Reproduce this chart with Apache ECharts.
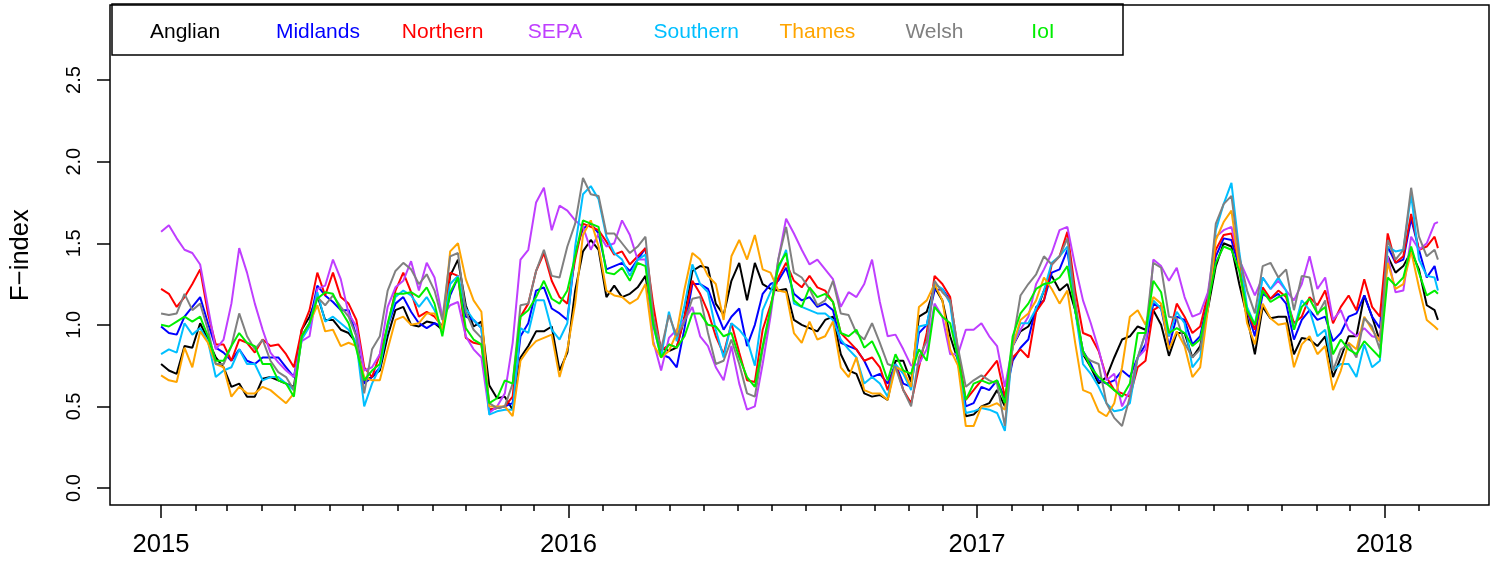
<!DOCTYPE html>
<html>
<head>
<meta charset="utf-8">
<script src="https://cdn.jsdelivr.net/npm/echarts@6/dist/echarts.min.js"></script>
<style>
  html, body { margin: 0; padding: 0; background: #ffffff; }
  #chart { width: 1498px; height: 561px; }
</style>
</head>
<body>
<div id="chart"></div>
<script>
// Weekly sampling dates for the regional F-index series
const dates = [
  '2015-01-01','2015-01-08','2015-01-15','2015-01-22','2015-01-29','2015-02-05','2015-02-12','2015-02-19','2015-02-26','2015-03-05',
  '2015-03-12','2015-03-19','2015-03-26','2015-04-02','2015-04-09','2015-04-16','2015-04-23','2015-04-30','2015-05-07','2015-05-14',
  '2015-05-21','2015-05-28','2015-06-04','2015-06-11','2015-06-18','2015-06-25','2015-07-02','2015-07-09','2015-07-16','2015-07-23',
  '2015-07-30','2015-08-06','2015-08-13','2015-08-20','2015-08-27','2015-09-03','2015-09-10','2015-09-17','2015-09-24','2015-10-01',
  '2015-10-08','2015-10-15','2015-10-22','2015-10-29','2015-11-05','2015-11-12','2015-11-19','2015-11-26','2015-12-03','2015-12-10',
  '2015-12-17','2015-12-24','2015-12-31','2016-01-07','2016-01-14','2016-01-21','2016-01-28','2016-02-04','2016-02-11','2016-02-18',
  '2016-02-25','2016-03-03','2016-03-10','2016-03-17','2016-03-24','2016-03-31','2016-04-07','2016-04-14','2016-04-21','2016-04-28',
  '2016-05-05','2016-05-12','2016-05-19','2016-05-26','2016-06-02','2016-06-09','2016-06-16','2016-06-23','2016-06-30','2016-07-07',
  '2016-07-14','2016-07-21','2016-07-28','2016-08-04','2016-08-11','2016-08-18','2016-08-25','2016-09-01','2016-09-08','2016-09-15',
  '2016-09-22','2016-09-29','2016-10-06','2016-10-13','2016-10-20','2016-10-27','2016-11-03','2016-11-10','2016-11-17','2016-11-24',
  '2016-12-01','2016-12-08','2016-12-15','2016-12-22','2016-12-29','2017-01-05','2017-01-12','2017-01-19','2017-01-26','2017-02-02',
  '2017-02-09','2017-02-16','2017-02-23','2017-03-02','2017-03-09','2017-03-16','2017-03-23','2017-03-30','2017-04-06','2017-04-13',
  '2017-04-20','2017-04-27','2017-05-04','2017-05-11','2017-05-18','2017-05-25','2017-06-01','2017-06-08','2017-06-15','2017-06-22',
  '2017-06-29','2017-07-06','2017-07-13','2017-07-20','2017-07-27','2017-08-03','2017-08-10','2017-08-17','2017-08-24','2017-08-31',
  '2017-09-07','2017-09-14','2017-09-21','2017-09-28','2017-10-05','2017-10-12','2017-10-19','2017-10-26','2017-11-02','2017-11-09',
  '2017-11-16','2017-11-23','2017-11-30','2017-12-07','2017-12-14','2017-12-21','2017-12-28','2018-01-04','2018-01-11','2018-01-18',
  '2018-01-25','2018-02-01','2018-02-08','2018-02-15','2018-02-18'
];

const anglian = [
  0.76,0.72,0.70,0.87,0.86,1.01,0.91,0.80,0.74,0.62, 0.64,0.56,0.56,0.67,0.68,0.66,0.64,0.62,0.97,1.05,
  1.18,1.03,1.03,0.97,0.95,0.89,0.66,0.68,0.72,0.93, 1.09,1.11,1.00,0.99,1.02,1.01,0.97,1.30,1.40,1.12,
  0.99,1.02,0.63,0.55,0.56,0.48,0.80,0.87,0.96,0.96, 0.99,0.72,0.83,1.21,1.45,1.52,1.46,1.17,1.24,1.17,
  1.19,1.23,1.30,1.00,0.86,0.84,0.86,1.05,1.33,1.36, 1.35,1.13,1.06,1.27,1.38,1.15,1.38,1.25,1.22,1.21,
  1.22,1.03,1.00,0.98,0.96,1.03,1.05,0.82,0.72,0.70, 0.58,0.56,0.57,0.54,0.78,0.78,0.65,1.05,1.08,1.23,
  1.15,0.93,0.78,0.44,0.45,0.50,0.52,0.60,0.50,0.87, 0.96,0.99,1.08,1.21,1.30,1.21,1.25,1.09,0.82,0.74,
  0.64,0.68,0.80,0.91,0.93,0.99,0.97,1.09,1.00,0.81, 0.95,0.95,0.80,0.87,1.10,1.36,1.50,1.48,1.25,1.05,
  0.82,1.11,1.04,1.05,1.05,0.82,0.92,0.91,0.87,0.93, 0.68,0.80,0.93,0.93,1.18,1.05,0.90,1.42,1.32,1.36,
  1.45,1.34,1.12,1.09,1.03
];
const midlands = [
  0.99,0.95,0.94,1.05,1.11,1.17,1.01,0.86,0.83,0.78, 0.85,0.78,0.76,0.80,0.80,0.80,0.74,0.68,0.93,1.01,
  1.24,1.18,1.14,1.09,1.09,0.93,0.64,0.68,0.74,0.99, 1.13,1.17,1.08,1.01,0.98,1.01,0.99,1.18,1.29,1.05,
  1.03,0.98,0.48,0.49,0.50,0.52,0.93,1.01,1.21,1.23, 1.10,1.07,1.03,1.44,1.59,1.62,1.56,1.34,1.36,1.38,
  1.33,1.40,1.47,1.02,0.82,0.80,0.74,0.98,1.25,1.25, 1.22,1.09,0.97,1.05,1.10,0.87,1.00,1.19,1.25,1.27,
  1.35,1.19,1.15,1.17,1.11,1.13,1.09,0.89,0.87,0.85, 0.78,0.68,0.70,0.64,0.76,0.64,0.62,0.95,1.00,1.21,
  1.22,1.15,0.80,0.50,0.52,0.62,0.60,0.66,0.55,0.78, 0.86,0.91,1.11,1.15,1.32,1.34,1.46,1.09,0.84,0.76,
  0.66,0.64,0.66,0.72,0.68,0.80,0.88,1.13,1.10,0.87, 1.05,1.03,0.88,0.93,1.16,1.42,1.53,1.52,1.35,1.09,
  0.93,1.19,1.16,1.19,1.13,0.91,1.03,1.09,1.03,1.05, 0.90,0.95,1.05,1.07,1.18,1.05,0.98,1.48,1.38,1.40,
  1.65,1.46,1.29,1.36,1.27
];
const northern = [
  1.22,1.19,1.11,1.17,1.25,1.34,1.07,0.88,0.88,0.78, 0.91,0.89,0.83,0.91,0.87,0.88,0.82,0.74,0.97,1.09,
  1.32,1.18,1.32,1.17,1.13,1.03,0.74,0.68,0.82,0.99, 1.21,1.32,1.20,1.05,1.08,1.05,0.99,1.32,1.30,0.92,
  0.89,0.88,0.48,0.49,0.50,0.56,1.05,1.13,1.33,1.44, 1.27,1.17,1.13,1.40,1.62,1.60,1.58,1.51,1.43,1.45,
  1.37,1.42,1.47,1.12,0.84,0.88,0.86,1.05,1.27,1.19, 1.08,0.93,0.82,1.01,0.83,0.66,0.65,0.97,1.12,1.29,
  1.38,1.27,1.23,1.30,1.23,1.21,1.14,0.95,0.90,0.85, 0.78,0.80,0.74,0.60,0.76,0.60,0.52,0.74,0.95,1.30,
  1.25,1.17,0.84,0.54,0.60,0.66,0.72,0.78,0.56,0.80, 0.85,0.80,1.08,1.15,1.37,1.42,1.57,1.21,0.95,0.93,
  0.84,0.68,0.60,0.58,0.56,0.74,0.78,1.09,1.12,0.93, 1.13,1.05,0.95,0.99,1.19,1.46,1.55,1.56,1.38,1.09,
  0.97,1.23,1.16,1.21,1.17,1.01,1.05,1.17,1.12,1.21, 1.01,1.11,1.18,1.09,1.28,1.11,1.05,1.56,1.38,1.42,
  1.68,1.46,1.48,1.54,1.47
];
const sepa = [
  1.57,1.61,1.53,1.46,1.44,1.37,1.11,0.85,0.91,1.13, 1.47,1.32,1.13,0.97,0.83,0.77,0.72,0.68,0.90,0.93,
  1.22,1.24,1.40,1.28,1.07,0.99,0.72,0.74,0.82,1.11, 1.23,1.27,1.39,1.21,1.38,1.29,1.05,1.12,1.14,0.93,
  0.85,0.80,0.46,0.50,0.58,0.89,1.40,1.46,1.75,1.84, 1.58,1.73,1.70,1.64,1.60,1.46,1.56,1.48,1.50,1.64,
  1.55,1.40,1.40,0.90,0.72,0.92,0.97,1.03,1.11,0.93, 0.87,0.74,0.66,0.87,0.64,0.48,0.50,0.76,1.05,1.40,
  1.65,1.56,1.46,1.37,1.40,1.34,1.28,1.11,1.20,1.17, 1.25,1.40,1.14,0.93,0.94,0.85,0.75,0.76,0.85,1.13,
  1.05,0.82,0.82,0.97,0.97,1.01,0.93,0.87,0.62,0.87, 0.97,1.05,1.25,1.34,1.44,1.58,1.60,1.36,1.15,1.01,
  0.85,0.66,0.70,0.50,0.60,0.80,0.85,1.40,1.36,1.27, 1.35,1.17,1.05,1.07,1.20,1.54,1.58,1.60,1.40,1.29,
  1.18,1.29,1.22,1.27,1.21,1.15,1.25,1.42,1.22,1.29, 1.03,1.09,0.97,0.93,0.98,0.93,0.92,1.42,1.20,1.21,
  1.54,1.46,1.50,1.62,1.63
];
const southern = [
  0.82,0.85,0.83,1.01,0.94,0.98,0.90,0.68,0.72,0.74, 0.85,0.76,0.76,0.66,0.68,0.68,0.64,0.60,0.91,0.99,
  1.20,1.02,1.05,1.01,0.97,0.89,0.50,0.64,0.74,0.99, 1.17,1.21,1.18,1.11,1.17,1.09,0.97,1.25,1.30,1.10,
  1.03,0.98,0.45,0.47,0.48,0.48,0.98,0.95,1.15,1.15, 0.97,0.91,1.01,1.48,1.80,1.85,1.77,1.54,1.44,1.40,
  1.30,1.40,1.43,1.00,0.80,1.08,0.90,1.12,1.37,1.25, 1.20,0.97,0.80,1.01,0.97,0.91,0.75,1.09,1.20,1.34,
  1.46,1.13,1.11,1.09,1.07,1.07,1.03,0.91,0.85,0.80, 0.64,0.68,0.64,0.56,0.76,0.70,0.60,0.99,1.00,1.25,
  1.22,1.13,0.77,0.46,0.47,0.49,0.48,0.46,0.35,0.87, 1.01,1.01,1.10,1.21,1.38,1.42,1.48,1.09,0.76,0.70,
  0.62,0.52,0.47,0.48,0.52,0.80,0.95,1.15,1.10,0.93, 1.08,1.01,0.74,0.80,1.12,1.58,1.74,1.87,1.45,1.11,
  1.00,1.29,1.22,1.29,1.21,0.97,1.15,1.09,0.93,0.97, 0.72,0.76,0.76,0.68,0.88,0.74,0.78,1.48,1.45,1.46,
  1.80,1.40,1.30,1.29,1.21
];
const thames = [
  0.69,0.66,0.65,0.86,0.74,0.96,0.89,0.76,0.74,0.56, 0.62,0.58,0.58,0.62,0.60,0.56,0.52,0.58,0.93,1.01,
  1.12,0.96,0.97,0.87,0.89,0.87,0.68,0.66,0.66,0.85, 1.03,1.05,1.00,1.01,1.07,1.07,0.97,1.45,1.50,1.28,
  1.15,1.08,0.50,0.50,0.50,0.44,0.78,0.85,0.90,0.92, 0.94,0.68,0.85,1.13,1.55,1.64,1.48,1.21,1.18,1.17,
  1.13,1.16,1.25,0.88,0.80,0.84,0.95,1.22,1.44,1.40, 1.30,1.25,1.03,1.42,1.52,1.40,1.55,1.34,1.32,1.21,
  1.20,0.95,0.89,1.02,0.91,0.93,1.02,0.74,0.68,0.80, 0.60,0.58,0.58,0.54,0.74,0.72,0.62,1.11,1.15,1.25,
  1.15,0.85,0.75,0.38,0.38,0.50,0.50,0.52,0.48,0.87, 1.03,1.07,1.15,1.29,1.22,1.13,1.21,0.89,0.60,0.58,
  0.47,0.44,0.52,0.74,1.05,1.09,1.00,1.17,1.13,0.85, 0.96,0.87,0.68,0.74,1.10,1.52,1.63,1.70,1.35,1.01,
  0.88,1.13,1.04,1.00,1.01,0.74,0.88,0.93,0.82,0.87, 0.60,0.72,0.89,0.85,1.05,0.97,0.90,1.38,1.22,1.25,
  1.45,1.23,1.03,0.99,0.97
];
const welsh = [
  1.07,1.06,1.07,1.19,1.09,1.13,0.97,0.76,0.76,0.87, 1.07,0.93,0.85,0.91,0.78,0.71,0.68,0.60,0.93,1.01,
  1.17,1.12,1.18,1.11,1.05,0.93,0.58,0.85,0.93,1.21, 1.33,1.38,1.34,1.25,1.31,1.21,1.03,1.42,1.44,1.08,
  0.97,0.92,0.52,0.49,0.50,0.64,1.12,1.13,1.33,1.46, 1.30,1.29,1.48,1.62,1.90,1.80,1.79,1.56,1.56,1.50,
  1.44,1.48,1.54,1.05,0.85,1.06,0.93,1.02,1.16,1.17, 0.95,0.76,0.78,0.91,0.76,0.58,0.56,0.85,1.08,1.40,
  1.60,1.32,1.29,1.22,1.12,1.15,1.27,1.07,1.06,0.95, 0.91,1.01,0.89,0.76,0.74,0.60,0.50,0.80,0.90,1.27,
  1.20,1.15,0.86,0.62,0.66,0.69,0.66,0.64,0.38,0.89, 1.18,1.25,1.31,1.42,1.37,1.42,1.53,1.15,0.82,0.78,
  0.76,0.52,0.43,0.38,0.56,0.80,0.95,1.38,1.35,1.05, 1.04,0.89,0.80,0.85,1.15,1.62,1.74,1.79,1.42,1.21,
  1.07,1.36,1.38,1.29,1.34,1.09,1.30,1.29,1.06,1.15, 0.72,0.85,0.88,0.80,1.04,0.99,0.85,1.52,1.40,1.46,
  1.84,1.54,1.42,1.46,1.40
];
const ioi = [
  1.00,0.99,1.02,1.05,1.02,1.05,0.93,0.78,0.78,0.87, 0.95,0.89,0.87,0.76,0.76,0.66,0.64,0.56,0.93,1.01,
  1.16,1.20,1.19,1.09,1.01,0.85,0.66,0.72,0.76,1.01, 1.19,1.19,1.20,1.17,1.23,1.13,0.93,1.20,1.29,0.98,
  0.91,0.88,0.52,0.55,0.66,0.64,1.05,1.09,1.17,1.27, 1.16,1.13,1.21,1.42,1.64,1.62,1.60,1.32,1.31,1.35,
  1.27,1.38,1.36,1.00,0.80,0.88,0.86,0.93,1.07,1.07, 1.00,0.99,0.93,0.95,0.80,0.68,0.62,0.87,1.10,1.36,
  1.44,1.15,1.11,1.23,1.17,1.19,1.14,0.95,0.93,0.97, 0.86,0.90,0.80,0.66,0.82,0.72,0.70,0.85,0.78,1.11,
  1.05,1.01,0.80,0.54,0.64,0.66,0.64,0.66,0.52,0.93, 1.07,1.13,1.22,1.25,1.26,1.29,1.36,1.09,0.84,0.74,
  0.68,0.64,0.60,0.56,0.64,0.95,0.95,1.27,1.20,0.95, 0.98,0.95,0.87,0.91,1.13,1.38,1.48,1.46,1.33,1.09,
  1.00,1.21,1.14,1.17,1.19,0.97,1.11,1.16,1.07,1.11, 0.82,0.91,0.85,0.82,0.90,0.85,0.80,1.29,1.24,1.29,
  1.48,1.32,1.18,1.21,1.19
];

const seriesNames = ['Anglian','Midlands','Northern','SEPA','Southern','Thames','Welsh','IoI'];
const seriesValues = [anglian, midlands, northern, sepa, southern, thames, welsh, ioi];
const seriesColors = ['#000000','#0000FF','#FF0000','#BF3EFF','#00BFFF','#FFA500','#808080','#00EE00'];

const yTickValues = [0, 0.5, 1.0, 1.5, 2.0, 2.5];
const yearLabels = [2015, 2016, 2017, 2018];

const FONT = '"Liberation Sans", Arial, Helvetica, sans-serif';
const toTime = d => Date.parse(d + 'T00:00:00Z');

// Axis range padded by 4% either side, like a base-graphics plot
const tFirst = toTime(dates[0]);
const tLast = toTime(dates[dates.length - 1]);
const tPad = 0.04 * (tLast - tFirst);

const yearTicks = yearLabels.map(y => Date.UTC(y, 0, 1));
const monthTicks = [];
for (let y = 2015; y <= 2018; y++) {
  for (let m = 0; m < 12; m++) {
    const t = Date.UTC(y, m, 1);
    if (t >= tFirst && t <= tLast) monthTicks.push(t);
  }
}

const chart = echarts.init(document.getElementById('chart'), null, { renderer: 'canvas' });

const legends = seriesNames.map((name, i) => ({
  show: true,
  data: [name],
  left: 145 + i * 125.9,
  top: 22,
  icon: 'none',
  itemWidth: 0,
  itemHeight: 0,
  itemGap: 0,
  padding: 0,
  selectedMode: false,
  textStyle: { color: seriesColors[i], fontSize: 21, fontFamily: FONT }
}));

const baseX = {
  type: 'value',
  min: tFirst - tPad,
  max: tLast + tPad,
  position: 'bottom',
  axisLine: { show: false, onZero: false },
  splitLine: { show: false }
};

chart.setOption({
  animation: false,
  backgroundColor: '#ffffff',
  textStyle: { fontFamily: FONT },
  grid: {
    left: 110, top: 5, width: 1379, height: 500,
    show: true, borderColor: '#000000', borderWidth: 1.5,
    backgroundColor: 'transparent'
  },
  legend: legends,
  graphic: [{
    type: 'rect',
    shape: { x: 112, y: 4, width: 1011, height: 51 },
    style: { fill: null, stroke: '#000000', lineWidth: 1.5 },
    z: 100
  }],
  xAxis: [
    Object.assign({}, baseX, {
      axisTick: { show: true, inside: false, customValues: monthTicks, length: 6, lineStyle: { color: '#000', width: 1.5 } },
      axisLabel: { show: false }
    }),
    Object.assign({}, baseX, {
      axisTick: { show: true, inside: false, customValues: yearTicks, length: 13, lineStyle: { color: '#000', width: 1.5 } },
      axisLabel: {
        show: true, customValues: yearTicks, margin: 27,
        fontSize: 25.6, color: '#000', fontFamily: FONT,
        formatter: v => String(new Date(v).getUTCFullYear())
      }
    })
  ],
  yAxis: {
    type: 'value',
    min: -0.104,
    max: 2.96,
    axisLine: { show: false, onZero: false },
    splitLine: { show: false },
    axisTick: { show: true, inside: false, customValues: yTickValues, length: 13, lineStyle: { color: '#000', width: 1.5 } },
    axisLabel: {
      show: true, customValues: yTickValues, rotate: 90, margin: 26,
      fontSize: 20, color: '#000', fontFamily: FONT,
      formatter: v => v.toFixed(1)
    },
    name: 'F\u2212index',
    nameLocation: 'middle',
    nameRotate: 90,
    nameGap: 76,
    nameTextStyle: { fontSize: 25.6, color: '#000', fontFamily: FONT }
  },
  series: seriesNames.map((name, i) => ({
    name: name,
    type: 'line',
    xAxisIndex: 0,
    showSymbol: false,
    symbol: 'none',
    lineStyle: { color: seriesColors[i], width: 2 },
    itemStyle: { color: seriesColors[i] },
    emphasis: { disabled: true },
    data: dates.map((d, k) => [toTime(d), seriesValues[i][k]])
  }))
});
</script>
</body>
</html>
